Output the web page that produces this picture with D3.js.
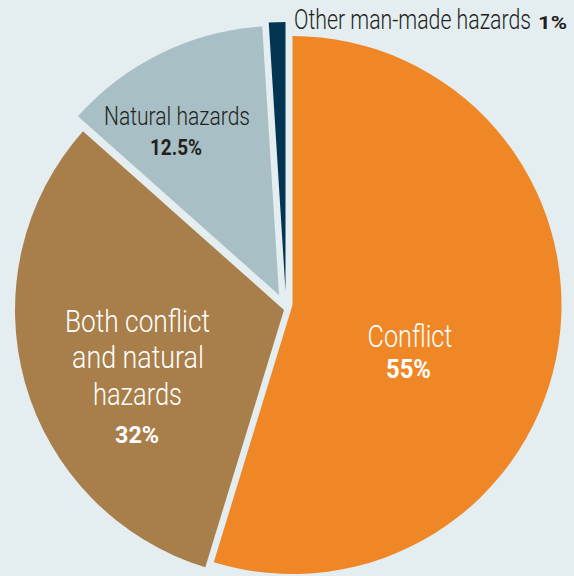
<!DOCTYPE html>
<html>
<head>
<meta charset="utf-8">
<script src="https://cdn.jsdelivr.net/npm/d3@7"></script>
<style>
  html, body { margin: 0; padding: 0; background: #e4edf0; }
  svg { display: block; }
  text { font-family: "Roboto", "Liberation Sans", sans-serif; }
</style>
</head>
<body>
<div id="chart"></div>
<script>
// slice data, clockwise from 12 o'clock
const categories = ['Conflict', 'Both conflict and natural hazards', 'Natural hazards', 'Other man-made hazards']
const shares = [55, 32, 12.5, 1]
const shareLabels = ['55%', '32%', '12.5%', '1%']

const width = 574
const height = 576
const bg = '#e4edf0'
const colors = ['#ef8727', '#a87f4a', '#a7bfc5', '#033553']
const dark = '#231f20'

// each slice is nudged away from the shared centre a little (exploded look)
const nudge = [[5.5, 0], [-3, 5], [-8, -10], [-1.5, -14]]

const cx = 287, cy = 305
const radius = 269

const svg = d3.select('#chart').append('svg')
  .attr('width', width)
  .attr('height', height)

svg.append('rect')
  .attr('width', width)
  .attr('height', height)
  .attr('fill', bg)

const slices = categories.map((c, i) => ({ name: c, value: shares[i], label: shareLabels[i], i: i }))

const pie = d3.pie().sort(null).value(d => d.value)
const arc = d3.arc().innerRadius(0).outerRadius(radius)

const g = svg.append('g').attr('transform', `translate(${cx},${cy})`)

g.selectAll('path').data(pie(slices)).enter().append('path')
  .attr('d', arc)
  .attr('transform', d => `translate(${nudge[d.data.i][0]},${nudge[d.data.i][1]})`)
  .attr('fill', d => colors[d.data.i])

// text helper: centred (or left) text squeezed to the width seen in the picture
function txt(x, y, s, size, col, weight, w, anchor) {
  return svg.append('text')
    .attr('x', x).attr('y', y)
    .attr('text-anchor', anchor || 'middle')
    .attr('fill', col)
    .attr('font-size', size)
    .attr('font-weight', weight)
    .attr('textLength', w)
    .attr('lengthAdjust', 'spacingAndGlyphs')
    .text(s)
}

// Conflict
txt(410, 346.5, 'Conflict', 32, '#fff', 300, 85)
txt(408.5, 378.3, shareLabels[0], 25, '#fff', 700, 45)

// Both conflict and natural hazards
txt(137.5, 331.7, 'Both conflict', 31, '#fff', 300, 145)
txt(138, 368.3, 'and natural', 31, '#fff', 300, 132)
txt(137.5, 405, 'hazards', 31, '#fff', 300, 89)
txt(137, 443.3, shareLabels[1], 23, '#fff', 700, 44)

// Natural hazards
txt(177, 125, 'Natural hazards', 25, dark, 300, 146)
txt(176, 155, shareLabels[2], 22, dark, 700, 52)

// Other man-made hazards (outside the pie, top)
txt(294, 29.3, categories[3], 27, dark, 300, 237, 'start')
txt(538, 29.3, shareLabels[3], 19, dark, 700, 29, 'start')
</script>
</body>
</html>
